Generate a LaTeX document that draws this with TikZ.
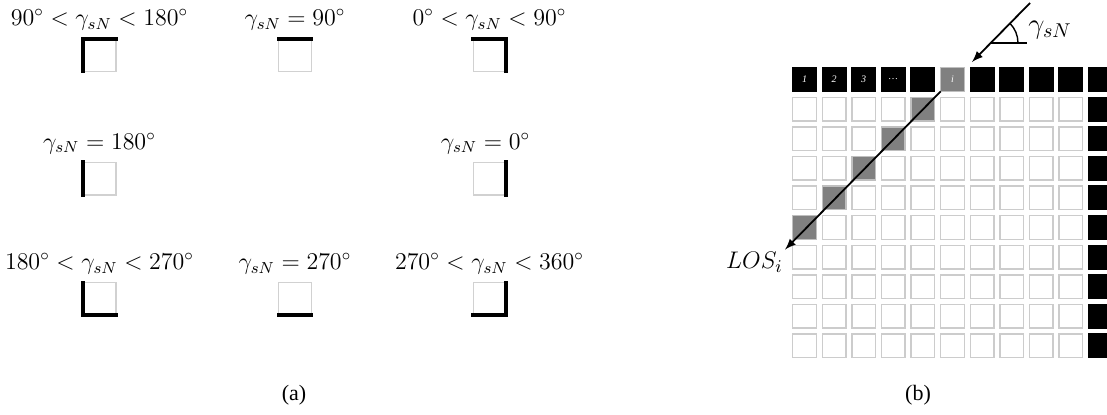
\documentclass[tikz,border=0pt]{standalone}
\usepackage{amsmath}
\usepackage{fontspec}
\setmainfont{Liberation Serif}
\usetikzlibrary{positioning}

\begin{document}
\begin{tikzpicture}[
    x=0.5pt, y=-0.5pt,
    every node/.style={inner sep=1pt},
    lbl/.style={font=\fontsize{11.5}{14}\selectfont},
    dirbox/.style={
        draw=black!18,
        line width=0.7pt,
        fill=white,
        minimum size=16.3pt,
        inner sep=0pt,
        outer sep=0pt
    },
    sidebar/.style={line width=2pt, line cap=rect},
    cell/.style={
        draw=black!20,
        line width=0.7pt,
        fill=white,
        minimum size=11.8pt,
        inner sep=0pt,
        outer sep=0pt
    },
    blackcell/.style={cell, fill=black, draw=black},
    graycell/.style={cell, fill=black!50, draw=black!25},
    arrow/.style={-latex, line width=0.9pt}
]
\useasboundingbox (0,0) rectangle (1107,414);

% (a) boxes
\node[dirbox] (b1) at (99.5,55) {};
\node[dirbox] (b2) at (295,55) {};
\node[dirbox] (b3) at (489.5,55) {};
\node[dirbox] (b4) at (99.5,178.5) {};
\node[dirbox] (b5) at (489.5,178.5) {};
\node[dirbox] (b6) at (99.5,299) {};
\node[dirbox] (b7) at (295,299) {};
\node[dirbox] (b8) at (489.5,299) {};

% labels
\node[lbl, above=3pt of b1] (l1) {$90^\circ < \gamma_{sN} < 180^\circ$};
\node[lbl, above=3pt of b2] (l2) {$\gamma_{sN} = 90^\circ$};
\node[lbl, above=3pt of b3] (l3) {$0^\circ < \gamma_{sN} < 90^\circ$};
\node[lbl, above=3pt of b4] (l4) {$\gamma_{sN} = 180^\circ$};
\node[lbl, above=3pt of b5, xshift=-2pt] (l5) {$\gamma_{sN} = 0^\circ$};
\node[lbl, above=3pt of b6] (l6) {$180^\circ < \gamma_{sN} < 270^\circ$};
\node[lbl, above=3pt of b7] (l7) {$\gamma_{sN} = 270^\circ$};
\node[lbl, above=3pt of b8] (l8) {$270^\circ < \gamma_{sN} < 360^\circ$};

% thick sides
\draw[sidebar] (b1.south west) |- (b1.north east);
\draw[sidebar] (b2.north west) -- (b2.north east);
\draw[sidebar] (b3.north west) -| (b3.south east);
\draw[sidebar] (b4.north west) -- (b4.south west);
\draw[sidebar] (b5.north east) -- (b5.south east);
\draw[sidebar] (b6.north west) |- (b6.south east);
\draw[sidebar] (b7.south west) -- (b7.south east);
\draw[sidebar] (b8.north east) |- (b8.south west);

% (b) grid
\foreach \c/\t in {0/1,1/2,2/3,3/\ldots,4/,5/i,6/,7/,8/,9/,10/}{
    \ifnum\c=5 \def\sty{graycell}\else\def\sty{blackcell}\fi
    \node[\sty, text=white, font=\fontsize{5}{6}\selectfont\itshape]
        (c-0-\c) at ({804.5+29.6*\c},79.5) {\t};
}
\foreach \r in {1,...,9}{
    \foreach \c in {0,...,10}{
        \ifnum\c=10 \def\sty{blackcell}\else
            \ifnum\numexpr\r+\c\relax=5 \def\sty{graycell}\else\def\sty{cell}\fi
        \fi
        \node[\sty] (c-\r-\c) at ({804.5+29.6*\c},{79.5+29.6*\r}) {};
    }
}

% sun direction
\coordinate (sunfrom) at (1030,3);
\coordinate (sunto) at (972,62);
\coordinate (vtx) at (990,43);
\draw[arrow] (sunfrom) -- (sunto);
\draw[line width=0.7pt] (vtx) -- ++(37,0);
\draw[line width=0.7pt] (vtx) ++(28,0) arc (0:-45:28);
\node[right, font=\fontsize{14}{16}\selectfont] (gam) at (1026,30) {$\gamma_{sN}$};

% line of sight
\node[left, font=\fontsize{12.5}{15}\selectfont] (los) at (785,262) {$LOS_i$};
\draw[arrow] (c-0-5.south west) -- (los.north east);

% captions
\node[font=\fontsize{11}{13}\selectfont] (capa) at (294,395) {(a)};
\node[font=\fontsize{11}{13}\selectfont] (capb) at (918,395) {(b)};

\end{tikzpicture}
\end{document}
